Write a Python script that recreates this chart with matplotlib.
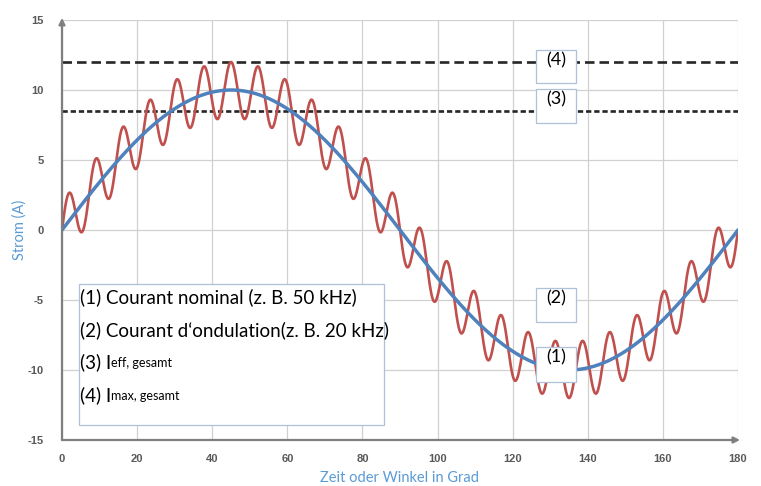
import numpy as np
import matplotlib
matplotlib.use("Agg")
import matplotlib.pyplot as plt
from matplotlib.patches import Rectangle

# ---------------- data ----------------
angle_start, angle_end = 0, 180           # Zeit oder Winkel in Grad
nominal_peak = 10.0                        # (1) Courant nominal, peak (A)
nominal_cycles = 1                         # full periods of the nominal current over 0..180
ripple_peak = 2.0                          # (2) ripple amplitude (A)
ripple_cycles = 25                         # ripple periods over 0..180
i_eff_total = 8.5                          # (3) I_eff, gesamt
i_max_total = 12.0                         # (4) I_max, gesamt

x_ticks = [0, 20, 40, 60, 80, 100, 120, 140, 160, 180]
y_ticks = [-15, -10, -5, 0, 5, 10, 15]

legend_main = ["(1) Courant nominal (z. B. 50 kHz)",
               "(2) Courant d\u2018ondulation(z. B. 20 kHz)",
               "(3) I",
               "(4) I"]
legend_sub = ["", "", "eff, gesamt", "max, gesamt"]
marker_labels = ["(1)", "(2)", "(3)", "(4)"]

x_label = "Zeit oder Winkel in Grad"
y_label = "Strom (A)"

# ---------------- curves ----------------
x = np.linspace(angle_start, angle_end, 3601)
phase = (x - angle_start) / (angle_end - angle_start) * 2 * np.pi
nominal = nominal_peak * np.sin(nominal_cycles * phase)
total = nominal + ripple_peak * np.sin(ripple_cycles * phase)

# ---------------- figure ----------------
W, H = 761, 486
fig = plt.figure(figsize=(W / 100, H / 100), dpi=100)
L, R, T, B = 62, 738, 20, 440
ax = fig.add_axes([L / W, 1 - B / H, (R - L) / W, (B - T) / H])

font = ["Lato", "DejaVu Sans"]
tick_font = ["Liberation Sans", "DejaVu Sans"]
tick_col = "#595959"
title_blue = "#5B9BD5"

ax.set_xlim(angle_start, angle_end)
ax.set_ylim(y_ticks[0], y_ticks[-1])
ax.set_xticks(x_ticks)
ax.set_yticks(y_ticks)
tick_kw = dict(fontfamily=tick_font, fontweight="bold", fontsize=8, color=tick_col)
ax.set_xticklabels([str(v) for v in x_ticks], **tick_kw)
ax.set_yticklabels([str(v) for v in y_ticks], **tick_kw)
ax.tick_params(length=0)
ax.tick_params(axis="x", pad=10)
ax.tick_params(axis="y", pad=13)

ax.grid(True, color="#D0D0D0", lw=0.9)
ax.set_axisbelow(True)
for s in ax.spines.values():
    s.set_visible(False)

# axis lines with arrows
axis_col = "#7F7F7F"
ax.annotate("", xy=(1.003, 0), xytext=(0, 0), xycoords="axes fraction",
            arrowprops=dict(arrowstyle="-|>", color=axis_col, lw=1.6,
                            mutation_scale=9, shrinkA=0, shrinkB=0), zorder=5)
ax.annotate("", xy=(0, 1.005), xytext=(0, 0), xycoords="axes fraction",
            arrowprops=dict(arrowstyle="-|>", color=axis_col, lw=1.6,
                            mutation_scale=9, shrinkA=0, shrinkB=0), zorder=5)

# horizontal levels
ax.axhline(i_max_total, color="#262626", lw=1.9, dashes=(3.6, 1.9), zorder=2)
ax.axhline(i_eff_total, color="#262626", lw=1.9, dashes=(2.0, 1.1), zorder=2)

# curves
ax.plot(x, total, color="#C0504D", lw=1.9, zorder=3, solid_capstyle="round")
ax.plot(x, nominal, color="#4F81BD", lw=2.5, zorder=4, solid_capstyle="round")

ax.set_xlabel(x_label, fontfamily=font, fontsize=10.5, color=title_blue)
ax.xaxis.set_label_coords((400 - L) / (R - L), -(478 - B) / (B - T))
ax.xaxis.label.set_va("center")
ax.set_ylabel(y_label, fontfamily=font, fontsize=10.5, color=title_blue)
ax.yaxis.set_label_coords((20 - L) / (R - L), (B - 230) / (B - T))
ax.yaxis.label.set_va("center")

# ---------------- annotation boxes ----------------
def px2data(px, py):
    dx = angle_start + (px - L) / (R - L) * (angle_end - angle_start)
    dy = y_ticks[-1] - (py - T) / (B - T) * (y_ticks[-1] - y_ticks[0])
    return dx, dy

box_edge = "#AFC0DA"

# legend box
x0, y0 = px2data(79, 425)
x1, y1 = px2data(384, 284)
ax.add_patch(Rectangle((x0, y0), x1 - x0, y1 - y0, facecolor="white",
                       edgecolor=box_edge, lw=0.9, zorder=6))
line_py = [297, 330, 362, 395]
for main, sub, py in zip(legend_main, legend_sub, line_py):
    tx, ty = px2data(80, py)
    t = ax.text(tx, ty, main, fontfamily=font, fontsize=13.5, color="black",
                ha="left", va="center", zorder=7)
    if sub:
        ax.annotate(sub, xy=(1, 0.12), xycoords=t, fontfamily=font, fontsize=9,
                    color="black", ha="left", va="bottom", zorder=7)

# small marker boxes
marker_boxes = [(347, 382), (288, 322), (89, 123), (50, 83)]
for lab, (pt, pb) in zip(marker_labels, marker_boxes):
    bx0, by0 = px2data(536, pb)
    bx1, by1 = px2data(576, pt)
    ax.add_patch(Rectangle((bx0, by0), bx1 - bx0, by1 - by0, facecolor="white",
                           edgecolor=box_edge, lw=0.9, zorder=6))
    tx, ty = px2data(556, pt + 10)
    ax.text(tx, ty, lab, fontfamily=font, fontsize=13, color="black",
            ha="center", va="center", zorder=7)

fig.savefig("out.png", dpi=100, facecolor="white")
